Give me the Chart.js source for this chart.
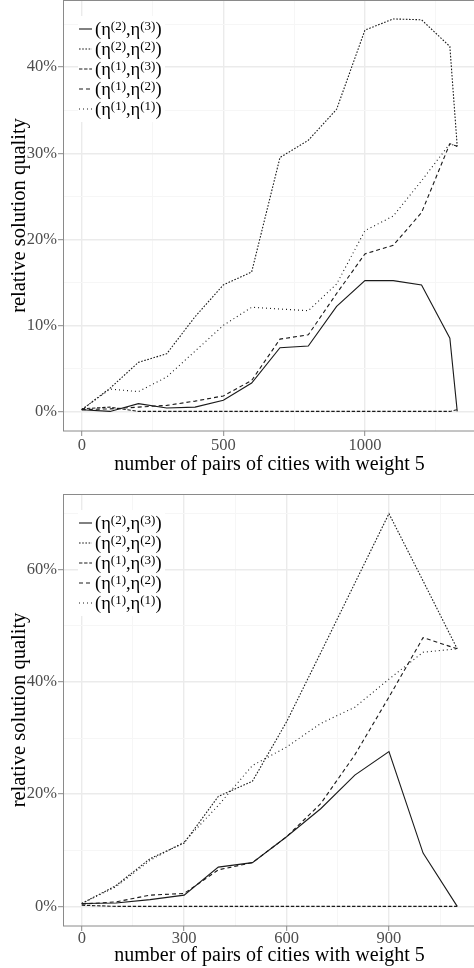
<!DOCTYPE html>
<html><head><meta charset="utf-8">
<script src="https://cdn.jsdelivr.net/npm/chart.js@4/dist/chart.umd.min.js"></script>
<style>
html,body{margin:0;padding:0;background:#fff;overflow:hidden;width:474px;height:968px}
.wrap{position:absolute;left:0}
#w1{top:0}
#w2{top:480px}
canvas{display:block}
</style></head><body>
<div class="wrap" id="w1"><canvas id="c1" width="476" height="480"></canvas></div>
<div class="wrap" id="w2"><canvas id="c2" width="476" height="488"></canvas></div>
<script>
// ---------- data ----------
const legendSup = [['2','3'],['2','2'],['1','3'],['1','2'],['1','1']];
const xTitle = 'number of pairs of cities with weight 5';
const yTitle = 'relative solution quality';

// top panel
const topX      = [0,100,200,300,400,500,600,700,800,900,1000,1100,1200,1300,1326];
const topH2H3   = [0.2,0.0,0.9,0.4,0.5,1.3,3.3,7.4,7.6,12.2,15.2,15.2,14.7,8.5,0.0];
const topH2H2   = [0.2,2.7,5.7,6.7,11.0,14.7,16.2,29.5,31.5,35.1,44.3,45.6,45.5,42.4,30.8];
const topH1H3   = [0.3,0.5,0.0,0.0,0.0,0.0,0.0,0.0,0.0,0.0,0.0,0.0,0.0,0.0,0.2];
const topH1H2   = [0.2,0.3,0.5,0.7,1.2,1.8,3.6,8.4,8.9,13.7,18.3,19.3,23.1,31.1,30.8];
const topH1H1   = [0.2,2.6,2.3,4.0,7.0,10.0,12.1,11.9,11.7,14.8,21.0,22.7,26.8,31.1,30.8];
const topXMajor = [0,500,1000];
const topXMinor = [250,750,1250];
const topYMajor = [0,10,20,30,40];
const topYMinor = [5,15,25,35,45];

// bottom panel
const botX      = [0,100,200,300,400,500,600,700,800,900,1000,1100];
const botH2H3   = [0.5,0.6,1.2,2.0,7.0,7.8,12.4,17.4,23.4,27.6,9.5,0.0];
const botH2H2   = [0.5,3.7,8.5,11.3,19.6,22.3,32.9,45.2,57.6,70.0,58.0,45.9];
const botH1H3   = [0.2,0.0,0.0,0.0,0.0,0.0,0.0,0.0,0.0,0.0,0.0,0.0];
const botH1H2   = [0.4,0.8,2.0,2.3,6.5,7.8,12.4,18.3,27.0,37.3,47.9,45.9];
const botH1H1   = [0.5,3.5,8.2,11.5,18.0,25.1,28.4,32.6,35.5,40.5,45.3,45.9];
const botXMajor = [0,300,600,900];
const botXMinor = [150,450,750,1050];
const botYMajor = [0,20,40,60];
const botYMinor = [10,30,50,70];

// ---------- styles ----------
const FAM = '"Liberation Serif", "Times New Roman", serif';
const dashes = [[], [1.6,1.6], [3.4,1.7], [4,3], [1,3]];
const lineColor = '#1a1a1a';

function supLabel(s){ return '(η(' + s[0] + '),η(' + s[1] + '))'; }

const ggLegend = {
  id: 'ggLegend',
  afterDatasetsDraw(chart) {
    const ctx = chart.ctx, ca = chart.chartArea;
    ctx.save();
    ctx.fillStyle = '#fff';
    ctx.fillRect(78, ca.top + 16, 87, 106);
    chart.data.datasets.forEach((ds, i) => {
      const y = ca.top + 29 + i * 20;
      ctx.strokeStyle = ds.borderColor;
      ctx.lineWidth = ds.borderWidth;
      ctx.setLineDash(ds.borderDash || []);
      ctx.beginPath(); ctx.moveTo(79, y); ctx.lineTo(92, y); ctx.stroke();
      ctx.setLineDash([]);
      const sup = legendSup[i];
      const parts = [['(η', 0], ['(' + sup[0] + ')', 1], [',η', 0], ['(' + sup[1] + ')', 1], [')', 0]];
      let x = 95;
      ctx.fillStyle = '#000';
      ctx.textBaseline = 'alphabetic';
      ctx.textAlign = 'left';
      parts.forEach(([t, s]) => {
        ctx.font = (s ? '13px ' : '18.5px ') + FAM;
        ctx.fillText(t, x, s ? y + 0.5 : y + 6);
        x += ctx.measureText(t).width;
      });
    });
    ctx.restore();
  },
  afterDraw(chart) {
    const ctx = chart.ctx, ca = chart.chartArea;
    ctx.save();
    ctx.strokeStyle = '#8a8a8a';
    ctx.lineWidth = 1;
    ctx.strokeRect(Math.round(ca.left) + 0.5, Math.round(ca.top) + 0.5,
                   ca.right - ca.left + 2, Math.round(ca.bottom - ca.top) - 0.5);
    ctx.restore();
  }
};

function makeChart(id, xs, series, xMaj, xMin, yMaj, yMin, xr, yr, lay) {
  const isMaj = (arr) => (v) => arr.includes(v);
  const xm = isMaj(xMaj), ym = isMaj(yMaj);
  const datasets = series.map((vals, i) => ({
    label: supLabel(legendSup[i]),
    data: xs.map((x, j) => ({x: x, y: vals[j]})),
    borderColor: lineColor,
    borderWidth: 1.1,
    borderDash: dashes[i],
    pointRadius: 0,
    tension: 0,
    fill: false
  }));
  const gridOpts = (m) => ({
    color: c => m(c.tick.value) ? '#ebebeb' : '#f6f6f6',
    lineWidth: c => m(c.tick.value) ? 1.4 : 1,
    tickColor: c => m(c.tick.value) ? '#8a8a8a' : 'rgba(0,0,0,0)',
    tickWidth: 1,
    tickLength: 5,
    drawTicks: true
  });
  return new Chart(document.getElementById(id), {
    type: 'line',
    data: { datasets },
    plugins: [ggLegend],
    options: {
      responsive: false,
      animation: false,
      devicePixelRatio: 1,
      layout: { padding: { top: lay.padTop, left: 0, right: 0, bottom: 0 } },
      plugins: { legend: { display: false }, tooltip: { enabled: false } },
      scales: {
        x: {
          type: 'linear', min: xr[0], max: xr[1],
          afterBuildTicks: s => { s.ticks = xMaj.concat(xMin).sort((a,b)=>a-b).map(v => ({value: v})); },
          afterFit: s => { s.height = lay.xAxisH; s.paddingLeft = 0; s.paddingRight = 0; },
          ticks: { autoSkip: false, maxRotation: 0, padding: lay.xTickPad, color: '#4d4d4d',
                   font: { family: FAM, size: 16.5 },
                   callback: v => xm(v) ? String(v) : '' },
          grid: gridOpts(xm),
          border: { display: false },
          title: { display: true, text: xTitle, color: '#000', font: { family: FAM, size: 20 },
                   padding: { top: 0, bottom: lay.xTitlePad } }
        },
        y: {
          type: 'linear', min: yr[0], max: yr[1],
          afterBuildTicks: s => { s.ticks = yMaj.concat(yMin).sort((a,b)=>a-b).map(v => ({value: v})); },
          afterFit: s => { s.width = 63; s.paddingTop = 0; s.paddingBottom = 0; },
          ticks: { autoSkip: false, padding: 1, color: '#4d4d4d',
                   font: { family: FAM, size: 16.5 },
                   callback: v => ym(v) ? v + '%' : '' },
          grid: gridOpts(ym),
          border: { display: false },
          title: { display: true, text: yTitle, color: '#000', font: { family: FAM, size: 20.5 },
                   padding: { top: 7, bottom: 0 } }
        }
      }
    }
  });
}

makeChart('c1', topX, [topH2H3, topH2H2, topH1H3, topH1H2, topH1H1],
  topXMajor, topXMinor, topYMajor, topYMinor, [-66.3, 1392.3], [-2.275, 47.8],
  { padTop: 0, xAxisH: 49, xTickPad: 0, xTitlePad: 3 });
makeChart('c2', botX, [botH2H3, botH2H2, botH1H3, botH1H2, botH1H1],
  botXMajor, botXMinor, botYMajor, botYMinor, [-55, 1155], [-3.5, 73.5],
  { padTop: 14, xAxisH: 42, xTickPad: -2, xTitlePad: 0 });
</script>
</body></html>
